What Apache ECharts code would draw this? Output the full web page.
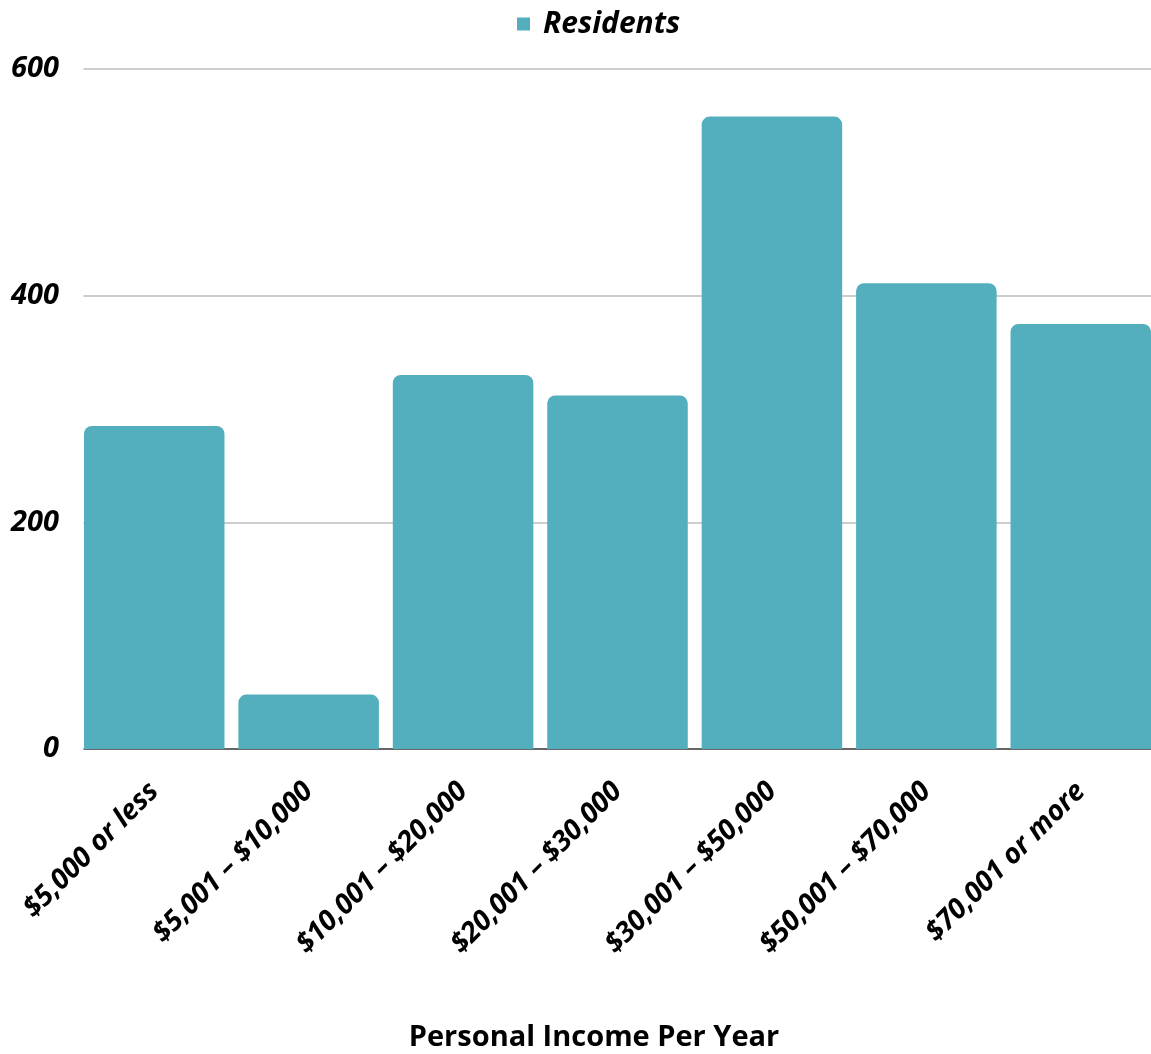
<!DOCTYPE html>
<html>
<head>
<meta charset="utf-8">
<script src="https://cdn.jsdelivr.net/npm/echarts@6/dist/echarts.min.js"></script>
<style>
  html, body { margin: 0; padding: 0; background: #fff; }
  #chart { width: 1151px; height: 1054px; }
</style>
</head>
<body>
<div id="chart"></div>
<script>
// income brackets and resident counts
var categories = ['$5,000 or less', '$5,001 – $10,000', '$10,001 – $20,000', '$20,001 – $30,000',
  '$30,001 – $50,000', '$50,001 – $70,000', '$70,001 or more']
var residents = [285, 48, 330, 312, 558, 411, 375]
var seriesName = 'Residents'
var xTitle = 'Personal Income Per Year'

var chart = echarts.init(document.getElementById('chart'))
var font = '"Open Sans", sans-serif'

var option = {
  backgroundColor: '#ffffff',
  animation: false,
  title: {
    text: xTitle,
    left: 589,
    textAlign: 'center',
    top: 1018,
    textStyle: {
      fontFamily: font,
      fontWeight: 'bold',
      fontSize: 29,
      color: '#000'
    }
  },
  legend: {
    top: 4,
    left: 512,
    itemWidth: 13,
    itemHeight: 13,
    itemGap: 10,
    icon: 'rect',
    textStyle: {
      fontFamily: font,
      fontWeight: 'bold',
      fontStyle: 'italic',
      fontSize: 30,
      padding: [0, 0, 0, 8],
      color: '#000'
    },
    data: [seriesName]
  },
  // plot runs a little past the right edge so the last bar ends flush with it
  grid: {
    left: 77,
    width: 1081,
    top: 69,
    bottom: 305,
    outerBoundsMode: 'none'
  },
  graphic: [{
    type: 'rect',
    z: 100,
    shape: { x: 70, y: 60, width: 13.5, height: 692 },
    style: { fill: '#ffffff' }
  }],
  xAxis: {
    type: 'category',
    data: categories,
    axisTick: { show: false },
    axisLine: { lineStyle: { color: '#666', width: 2 } },
    axisLabel: {
      rotate: 45,
      interval: 0,
      margin: 38,
      fontFamily: font,
      fontWeight: 'bold',
      fontStyle: 'italic',
      fontSize: 28,
      color: '#000'
    }
  },
  yAxis: {
    type: 'value',
    min: 0,
    max: 600,
    interval: 200,
    axisLine: { show: false },
    axisTick: { show: false },
    splitLine: { lineStyle: { color: '#bdbdbd', width: 1.5 } },
    axisLabel: {
      margin: 18,
      fontFamily: font,
      fontWeight: 'bold',
      fontStyle: 'italic',
      fontSize: 29,
      color: '#000'
    }
  },
  series: [{
    name: seriesName,
    type: 'bar',
    data: residents,
    barCategoryGap: '9%',
    itemStyle: {
      color: '#53afbd',
      borderRadius: [8, 8, 0, 0]
    }
  }]
}

chart.setOption(option)
</script>
</body>
</html>
